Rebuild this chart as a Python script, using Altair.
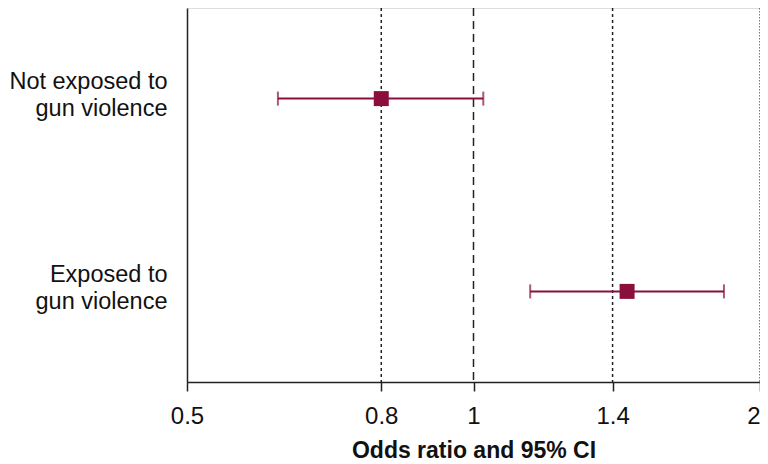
import altair as alt
import pandas as pd

groups = ["Not exposed to\ngun violence", "Exposed to\ngun violence"]
odds = [0.80, 1.45]
lower = [0.623, 1.147]
upper = [1.024, 1.833]

ref_dotted = [0.8, 1.4]
ref_dashed = [1.0]
ref_fine = [2.0]
tick_values = [0.5, 0.8, 1, 1.4, 2]

color = "#8a0f3d"
font = "Liberation Sans"

df = pd.DataFrame({"group": groups, "or": odds, "lo": lower, "hi": upper})

x_scale = alt.Scale(type="log", domain=[0.5, 2], nice=False)
y_scale = alt.Scale(type="point", padding=0.47)

x_axis = alt.Axis(
    values=tick_values,
    format=".1~f",
    title="Odds ratio and 95% CI",
    titleFont=font,
    titleFontSize=23,
    titleFontWeight="bold",
    titleColor="#111",
    titlePadding=11,
    labelFont=font,
    labelFontSize=24,
    labelColor="#111",
    labelPadding=13,
    labelFlush=False,
    labelAlign={"condition": {"test": "datum.value >= 2", "value": "right"}, "value": "center"},
    tickSize=9,
    tickColor="#222",
    tickWidth=1.5,
    domainColor="#222",
    domainWidth=1.5,
    grid=False,
)
y_axis = alt.Axis(
    title=None,
    labelExpr="split(datum.label, '\\n')",
    labelFont=font,
    labelFontSize=23.5,
    labelColor="#111",
    labelLineHeight=27,
    labelOffset=-17,
    labelPadding=20,
    ticks=False,
    domainColor="#222",
    domainWidth=1.5,
    grid=False,
)

def ref_layer(vals, dash, width=1.5):
    return alt.Chart(pd.DataFrame({"v": vals})).mark_rule(
        color="#222", strokeDash=dash, strokeWidth=width
    ).encode(x=alt.X("v:Q", scale=x_scale, axis=x_axis))

dotted = ref_layer(ref_dotted, [3, 3])
dashed = ref_layer(ref_dashed, [8, 5])
fine = ref_layer(ref_fine, [1.5, 1.5], 1.2)

base = alt.Chart(df)

bars = base.mark_rule(color=color, strokeWidth=2).encode(
    x=alt.X("lo:Q", scale=x_scale, axis=x_axis),
    x2="hi:Q",
    y=alt.Y("group:N", sort=groups, scale=y_scale, axis=y_axis),
)

caps_lo = base.mark_tick(color=color, thickness=2, size=14).encode(
    x=alt.X("lo:Q", scale=x_scale, axis=x_axis),
    y=alt.Y("group:N", sort=groups, scale=y_scale, axis=y_axis),
)
caps_hi = base.mark_tick(color=color, thickness=2, size=14).encode(
    x=alt.X("hi:Q", scale=x_scale, axis=x_axis),
    y=alt.Y("group:N", sort=groups, scale=y_scale, axis=y_axis),
)
points = base.mark_square(color=color, size=225, opacity=1).encode(
    x=alt.X("or:Q", scale=x_scale, axis=x_axis),
    y=alt.Y("group:N", sort=groups, scale=y_scale, axis=y_axis),
)

chart = alt.layer(dotted, dashed, fine, bars, caps_lo, caps_hi, points).properties(
    width=573,
    height=374,
    autosize=alt.AutoSizeParams(type="none"),
    padding={"left": 179, "top": 0, "right": 0, "bottom": 82},
).configure_view(stroke=None).configure_axis(grid=False).configure(background="white")

chart.save("out.html", embed_options={"renderer": "svg", "actions": False})
